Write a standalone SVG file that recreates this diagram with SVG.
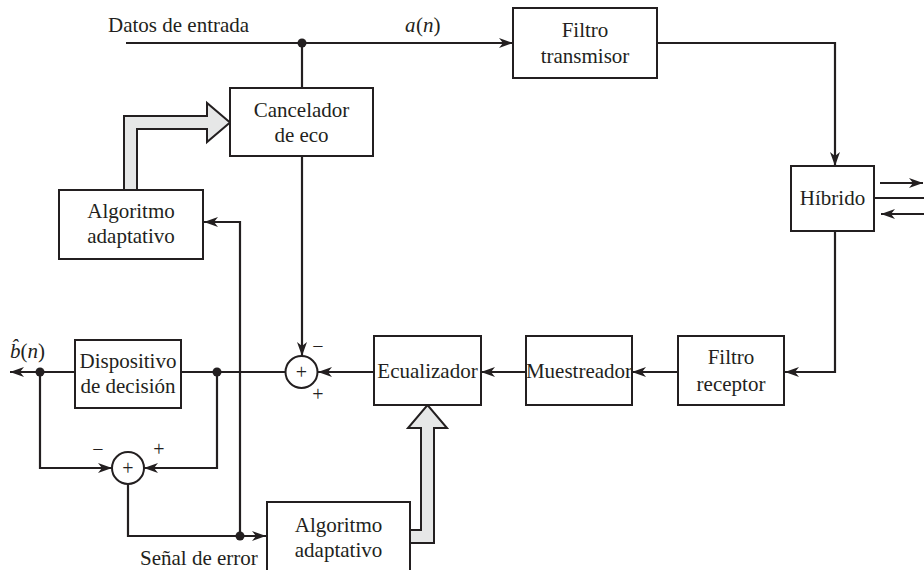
<svg xmlns="http://www.w3.org/2000/svg" width="924" height="570" viewBox="0 0 924 570">
  <style>
    .box { fill: #ffffff; stroke: #231f20; stroke-width: 2; }
    .wire { fill: none; stroke: #231f20; stroke-width: 2.2; }
    .arr { marker-end: url(#ah); }
    .fat { fill: #e6e7e7; stroke: #231f20; stroke-width: 2; stroke-linejoin: miter; }
    .dot { fill: #231f20; }
    .sum { fill: #ffffff; stroke: #231f20; stroke-width: 2; }
    text { font-family: "Liberation Serif", "Times New Roman", serif; font-size: 21px; fill: #231f20; }
    .c { text-anchor: middle; }
    .sign { font-size: 20px; text-anchor: middle; fill: #231f20; }
    .it { font-style: italic; }
  </style>
  <defs>
    <marker id="ah" viewBox="0 0 14 10" refX="14" refY="5" markerWidth="14" markerHeight="10" markerUnits="userSpaceOnUse" orient="auto">
      <path d="M0,0 L14,5 L0,10 L4,5 Z" fill="#231f20"/>
    </marker>
  </defs>

  <!-- connectors -->
  <g id="connectors">
    <!-- input data line -->
    <line class="wire arr" x1="126" y1="43" x2="513" y2="43"/>
    <line class="wire" x1="302" y1="43" x2="302" y2="88"/>
    <!-- transmit filter to hybrid -->
    <polyline class="wire arr" points="657,43 835,43 835,166"/>
    <!-- hybrid line ports -->
    <line class="wire arr" x1="880" y1="183" x2="923" y2="183"/>
    <line class="wire" x1="874" y1="198" x2="924" y2="198"/>
    <line class="wire arr" x1="924" y1="214" x2="881" y2="214"/>
    <!-- hybrid to receive filter -->
    <polyline class="wire arr" points="835,231 835,372 785,372"/>
    <line class="wire arr" x1="678" y1="372" x2="632" y2="372"/>
    <line class="wire arr" x1="526" y1="372" x2="481" y2="372"/>
    <line class="wire arr" x1="374" y1="372" x2="318" y2="372"/>
    <!-- echo canceller output to summer -->
    <line class="wire arr" x1="302" y1="156" x2="302" y2="356"/>
    <!-- summer to decision device -->
    <line class="wire" x1="285" y1="372" x2="181" y2="372"/>
    <!-- decision output -->
    <line class="wire arr" x1="75" y1="372" x2="10" y2="372"/>
    <!-- error summer inputs -->
    <polyline class="wire arr" points="40,372 40,468 112,468"/>
    <polyline class="wire arr" points="217,372 217,468 144,468"/>
    <!-- error signal -->
    <polyline class="wire arr" points="128,484 128,536 266,536"/>
    <polyline class="wire arr" points="240,536 240,222 204,222"/>
    <!-- junction dots -->
    <circle class="dot" cx="302" cy="43" r="4.5"/>
    <circle class="dot" cx="217" cy="372" r="4.5"/>
    <circle class="dot" cx="40" cy="372" r="4.5"/>
    <circle class="dot" cx="240" cy="536" r="4.5"/>
    <!-- wide adaptation arrows -->
    <path class="fat" d="M124,190 L124,116 L207,116 L207,103 L230,122.5 L207,142 L207,129 L137,129 L137,190 Z"/>
    <path class="fat" d="M410,530 L421,530 L421,428 L408,428 L427.5,405 L447,428 L434,428 L434,543 L410,543 Z"/>
  </g>

  <g id="filtro-transmisor">
    <rect class="box" x="513" y="8" width="144" height="70"/>
    <text class="c" x="585" y="37">Filtro</text>
    <text class="c" x="585" y="63">transmisor</text>
  </g>

  <g id="cancelador">
    <rect class="box" x="230" y="88" width="143" height="68"/>
    <text class="c" x="301.5" y="117">Cancelador</text>
    <text class="c" x="301.5" y="142">de eco</text>
  </g>

  <g id="hibrido">
    <rect class="box" x="791" y="166" width="83" height="65"/>
    <text class="c" x="832.5" y="205">Híbrido</text>
  </g>

  <g id="algoritmo-eco">
    <rect class="box" x="59" y="190" width="144" height="69"/>
    <text class="c" x="131" y="218">Algoritmo</text>
    <text class="c" x="131" y="243">adaptativo</text>
  </g>

  <g id="filtro-receptor">
    <rect class="box" x="678" y="336" width="106" height="69"/>
    <text class="c" x="731" y="364">Filtro</text>
    <text class="c" x="731" y="391">receptor</text>
  </g>

  <g id="muestreador">
    <rect class="box" x="526" y="336" width="106" height="69"/>
    <text class="c" x="579" y="378">Muestreador</text>
  </g>

  <g id="ecualizador">
    <rect class="box" x="374" y="336" width="107" height="69"/>
    <text class="c" x="427.5" y="378">Ecualizador</text>
  </g>

  <g id="sumador">
    <circle class="sum" cx="301.5" cy="372" r="16"/>
    <text class="sign" x="301.5" y="379">+</text>
    <text class="sign" x="318" y="353">−</text>
    <text class="sign" x="318" y="401">+</text>
  </g>

  <g id="dispositivo">
    <rect class="box" x="75" y="340" width="106" height="68"/>
    <text class="c" x="128" y="368">Dispositivo</text>
    <text class="c" x="128" y="393">de decisión</text>
  </g>

  <g id="sumador-error">
    <circle class="sum" cx="128" cy="468" r="16"/>
    <text class="sign" x="128" y="475">+</text>
    <text class="sign" x="98" y="456">−</text>
    <text class="sign" x="159" y="456">+</text>
  </g>

  <g id="algoritmo-ecualizador">
    <rect class="box" x="267" y="502" width="143" height="70"/>
    <text class="c" x="338.5" y="532">Algoritmo</text>
    <text class="c" x="338.5" y="557">adaptativo</text>
  </g>

  <!-- signal labels -->
  <g id="labels">
    <text x="108" y="32">Datos de entrada</text>
    <text class="it" x="405" y="32">a</text>
    <text x="416" y="32">(<tspan font-style="italic">n</tspan>)</text>
    <text x="140" y="565">Señal de error</text>
    <text class="it" x="10" y="358">b̂</text>
    <text x="20.5" y="358">(<tspan font-style="italic">n</tspan>)</text>
  </g>
</svg>
